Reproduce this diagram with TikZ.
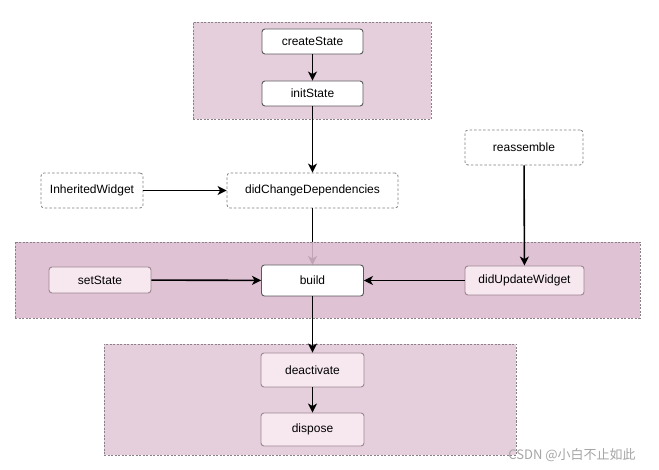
\documentclass[tikz,border=0pt]{standalone}
\usepackage{fontspec}
\setmainfont{Liberation Sans}
\newfontfamily\cjkfont{Noto Sans CJK SC}
\usetikzlibrary{arrows.meta}
\definecolor{grpA}{HTML}{E6CFDD}
\definecolor{grpB}{HTML}{DCBAD0}
\definecolor{pinkfill}{HTML}{F7E8F0}
\definecolor{pinkedge}{HTML}{9C8690}
\definecolor{grpedge}{HTML}{8A8088}
\tikzset{
  grp/.style={draw=grpedge, line width=0.9pt, dash pattern=on 2pt off 1.5pt, inner sep=0pt},
  whitebox/.style={draw=black!65, fill=white, rounded corners=3pt, line width=0.9pt, inner sep=0pt, font=\fontsize{12}{14}\selectfont},
  pinkbox/.style={draw=pinkedge, fill=pinkfill, rounded corners=3pt, line width=0.9pt, inner sep=0pt, font=\fontsize{12}{14}\selectfont},
  dashbox/.style={draw=black!50, fill=white, rounded corners=3pt, line width=0.8pt, dash pattern=on 2.5pt off 2pt, inner sep=0pt, font=\fontsize{12}{14}\selectfont},
  arr/.style={draw=black, line width=1.6pt, -{Stealth[length=9pt,width=9pt,inset=2.5pt]}},
}
\begin{document}
\begin{tikzpicture}[x=1pt,y=-1pt]
\useasboundingbox[fill=white] (0,0) rectangle (659,470);
% top group
\node[grp, fill=grpA, minimum width=238pt, minimum height=97pt] (gtop) at (312,70.5) {};
\node[whitebox, minimum width=101pt, minimum height=25pt] (create) at (312.5,41.5) {createState};
\node[whitebox, minimum width=101pt, minimum height=25pt] (init) at (312.5,93.5) {initState};
% middle free nodes
\node[dashbox, minimum width=102pt, minimum height=35pt] (inh) at (92,190.5) {InheritedWidget};
\node[dashbox, minimum width=171pt, minimum height=35pt] (dcd) at (312.5,190.5) {didChangeDependencies};
\node[dashbox, minimum width=118pt, minimum height=35pt] (reas) at (524,147.5) {reassemble};
% arrow under the middle group
\coordinate (buildtop) at (312.5,265);
\draw[arr] (dcd.south) -- (buildtop);
% middle group
\node[grp, fill=grpB, fill opacity=0.88, minimum width=625pt, minimum height=76pt] (gmid) at (327.5,280) {};
\node[pinkbox, minimum width=102pt, minimum height=26pt] (set) at (100,280) {setState};
\node[whitebox, minimum width=102pt, minimum height=31pt] (build) at (312.5,280.5) {build};
\node[pinkbox, minimum width=119pt, minimum height=29pt] (upd) at (524.5,280.5) {didUpdateWidget};
% bottom group
\node[grp, fill=grpA, minimum width=412pt, minimum height=111pt] (gbot) at (310,399.5) {};
\node[pinkbox, minimum width=103pt, minimum height=34pt] (deact) at (312.5,370) {deactivate};
\node[pinkbox, minimum width=103pt, minimum height=33pt] (disp) at (312.5,429.5) {dispose};
% connectors
\draw[arr] (create) -- (init);
\draw[arr] (init.south) -- (dcd.north);
\draw[arr] (inh) -- (dcd);
\draw[arr] (set) -- (build);
\draw[arr] (upd) -- (build);
\draw[arr] (reas) -- (upd);
\draw[arr] (build.south) -- (deact.north);
\draw[arr] (deact) -- (disp);
% watermark
\node[text=black!35, font=\cjkfont\fontsize{13}{15}\selectfont, inner sep=0pt] (wm) at (572,455) {CSDN @小白不止如此};
\end{tikzpicture}
\end{document}
